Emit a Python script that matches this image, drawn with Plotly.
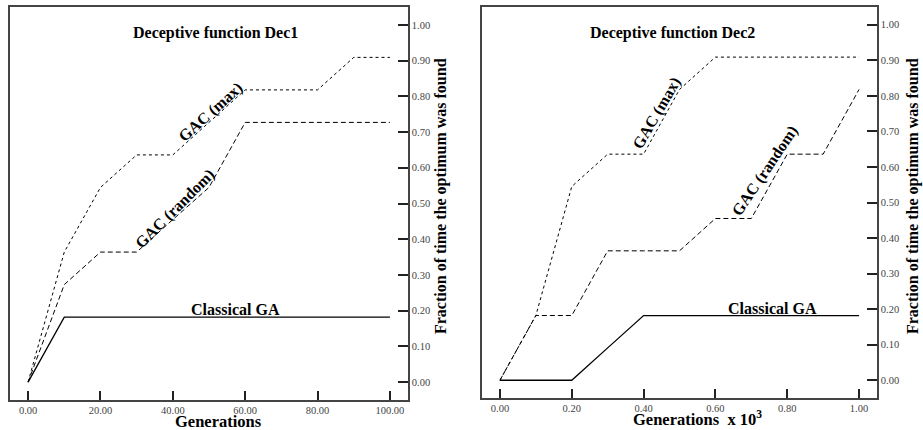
import plotly.graph_objects as go

# ---- data ----
dec1_gen = [0, 10, 20, 30, 40, 50, 60, 70, 80, 90, 100]
dec1_classical = [0.0, 0.182, 0.182, 0.182, 0.182, 0.182, 0.182, 0.182, 0.182, 0.182, 0.182]
dec1_gac_max = [0.0, 0.364, 0.545, 0.636, 0.636, 0.727, 0.818, 0.818, 0.818, 0.909, 0.909]
dec1_gac_random = [0.0, 0.273, 0.364, 0.364, 0.455, 0.545, 0.727, 0.727, 0.727, 0.727, 0.727]

dec2_gen = [0.0, 0.1, 0.2, 0.3, 0.4, 0.5, 0.6, 0.7, 0.8, 0.9, 1.0]
dec2_classical = [0.0, 0.0, 0.0, 0.091, 0.182, 0.182, 0.182, 0.182, 0.182, 0.182, 0.182]
dec2_gac_max = [0.0, 0.182, 0.545, 0.636, 0.636, 0.818, 0.909, 0.909, 0.909, 0.909, 0.909]
dec2_gac_random = [0.0, 0.182, 0.182, 0.364, 0.364, 0.364, 0.455, 0.455, 0.636, 0.636, 0.818]

dec1_xticks = [0, 20, 40, 60, 80, 100]
dec2_xticks = [0.0, 0.2, 0.4, 0.6, 0.8, 1.0]
yticks = [0.0, 0.1, 0.2, 0.3, 0.4, 0.5, 0.6, 0.7, 0.8, 0.9, 1.0]

W, H = 923, 430
SERIF = "Liberation Serif"
AXC = "#444444"

fig = go.Figure()

def add_panel(xs, cls, gmax, grand, xa, ya):
    fig.add_trace(go.Scatter(x=xs, y=gmax, mode="lines", xaxis=xa, yaxis=ya,
                             line=dict(color="black", width=1, dash="dot"), showlegend=False))
    fig.add_trace(go.Scatter(x=xs, y=grand, mode="lines", xaxis=xa, yaxis=ya,
                             line=dict(color="black", width=1, dash="5px,3px"), showlegend=False))
    fig.add_trace(go.Scatter(x=xs, y=cls, mode="lines", xaxis=xa, yaxis=ya,
                             line=dict(color="black", width=1.3), showlegend=False))

add_panel(dec1_gen, dec1_classical, dec1_gac_max, dec1_gac_random, "x", "y")
add_panel(dec2_gen, dec2_classical, dec2_gac_max, dec2_gac_random, "x2", "y2")

def px(x):
    return x / W

def py(y):
    return 1 - y / H

common_x = dict(showgrid=False, zeroline=False, showline=True, linecolor=AXC, linewidth=1.5,
                mirror=True, ticks="inside", ticklen=9, tickwidth=1.5, tickcolor="#222",
                tickfont=dict(family=SERIF, size=10.5, color="#444"))
common_y = dict(showgrid=False, zeroline=False, showline=True, linecolor=AXC, linewidth=1.5,
                mirror=True, ticks="inside", ticklen=10, tickwidth=1.5, tickcolor="#222",
                side="right", range=[-0.05, 1.05], tickvals=yticks,
                ticktext=[f"{v:.2f}" for v in yticks],
                tickfont=dict(family=SERIF, size=10.5, color="#444"))

fig.update_layout(
    width=W, height=H,
    margin=dict(l=0, r=0, t=0, b=0),
    paper_bgcolor="white", plot_bgcolor="white",
    xaxis=dict(domain=[px(10), px(408)], range=[-5, 105], anchor="y",
               tickvals=dec1_xticks, ticktext=[f"{v:.2f}" for v in dec1_xticks], **common_x),
    yaxis=dict(domain=[py(400), py(7)], anchor="x", **common_y),
    xaxis2=dict(domain=[px(482), px(877)], range=[-0.05, 1.05], anchor="y2",
                tickvals=dec2_xticks, ticktext=[f"{v:.2f}" for v in dec2_xticks], **common_x),
    yaxis2=dict(domain=[py(398), py(7)], anchor="x2", **common_y),
)

def ann(text, x, y, size=16, angle=0):
    fig.add_annotation(text=text, x=px(x), y=py(y), xref="paper", yref="paper",
                       showarrow=False, textangle=angle, xanchor="center", yanchor="middle",
                       font=dict(family=SERIF, size=size, color="black"))

# panel titles
ann("<b>Deceptive function Dec1</b>", 215, 33, 16)
ann("<b>Deceptive function Dec2</b>", 672, 33, 16)
# curve labels
ann("<b>GAC (max)</b>", 211, 112, 16, -42)
ann("<b>GAC (random)</b>", 175, 209, 16, -45)
ann("<b>Classical GA</b>", 235, 309, 16)
ann("<b>GAC (max)</b>", 657, 113, 16, -60)
ann("<b>GAC (random)</b>", 765, 171, 16, -56)
ann("<b>Classical GA</b>", 772, 308, 16)
# axis titles
ann("<b>Generations</b>", 218, 421, 16.5)
ann("<b>Generations  x 10<sup>3</sup></b>", 697, 418, 16.5)
ann("<b>Fraction of time the optimum was found</b>", 441, 196, 16, -90)
ann("<b>Fraction of time the optimum was found</b>", 913, 196, 16, -90)

fig.write_html("out.html", config={"displayModeBar": False},
               post_script="document.body.style.margin='0px';")
